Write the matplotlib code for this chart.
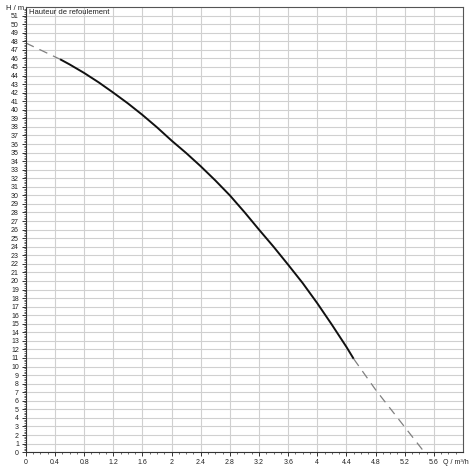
import matplotlib
matplotlib.use("Agg")
import matplotlib.pyplot as plt
import numpy as np

# pump curve (Q in m3/h, H in m)
q_start = [0, 0.47]
h_start = [47.8, 45.9]

q_main = [0.47, 0.6, 0.8, 1.0, 1.2, 1.4, 1.6, 1.8, 2.0, 2.2, 2.4, 2.6, 2.8,
          3.0, 3.2, 3.4, 3.6, 3.8, 4.0, 4.2, 4.4, 4.5]
h_main = [45.9, 45.3, 44.3, 43.2, 42.0, 40.75, 39.4, 37.95, 36.4, 34.95, 33.4, 31.75, 30.0,
          28.05, 26.0, 24.0, 21.9, 19.75, 17.4, 14.9, 12.3, 10.9]

q_end = [4.5, 4.8, 5.47]
h_end = [10.9, 7.3, 0]

x_ticks = [0, 0.4, 0.8, 1.2, 1.6, 2, 2.4, 2.8, 3.2, 3.6, 4, 4.4, 4.8, 5.2, 5.6]
x_labels = ["0", "0.4", "0.8", "1.2", "1.6", "2", "2.4", "2.8", "3.2", "3.6", "4", "4.4", "4.8", "5.2", "5.6"]
y_ticks = list(range(0, 52))

plt.rcParams['font.family'] = ['Liberation Sans', 'DejaVu Sans']

fig = plt.figure(figsize=(4.7, 4.7), dpi=100)
ax = fig.add_axes([0.055, 0.038, 0.93, 0.947])

ax.plot(q_start, h_start, color='#808080', lw=0.9, ls=(0, (7, 5)))
ax.plot(q_main, h_main, color='#111111', lw=1.4, solid_capstyle='butt', solid_joinstyle='round')
ax.plot(q_end, h_end, color='#808080', lw=0.9, ls=(0, (7, 5)))

ax.set_xlim(0, 6.0)
ax.set_ylim(0, 52)

ax.set_xticks(x_ticks)
ax.set_xticklabels(x_labels)
ax.set_xticks(np.arange(0, 6.0, 0.1), minor=True)
ax.set_yticks(y_ticks)
ax.set_yticks(np.arange(0, 52, 0.2), minor=True)

ax.grid(True, which='major', color='#d0d0d0', lw=0.8)
ax.set_axisbelow(True)

ax.tick_params(axis='both', which='major', labelsize=5, color='#333333',
               length=3, width=0.7, pad=2, labelcolor='#222222')
ax.tick_params(axis='both', which='minor', length=1.5, width=0.5, color='#333333')

for side in ['left', 'bottom']:
    ax.spines[side].set_color('#333333')
    ax.spines[side].set_linewidth(0.8)
for side in ['right', 'top']:
    ax.spines[side].set_color('#555555')
    ax.spines[side].set_linewidth(0.8)

fig.text(0.012, 0.982, "H / m", fontsize=5.5, color='#222222', va='center', ha='left')
ax.text(0.008, 0.987, "Hauteur de refoulement", transform=ax.transAxes,
        fontsize=5.5, color='#222222', va='center', ha='left')
fig.text(0.997, 0.016, "Q / m\u00b3/h", fontsize=5, color='#222222', va='center', ha='right')

fig.savefig("out.png", dpi=100)
